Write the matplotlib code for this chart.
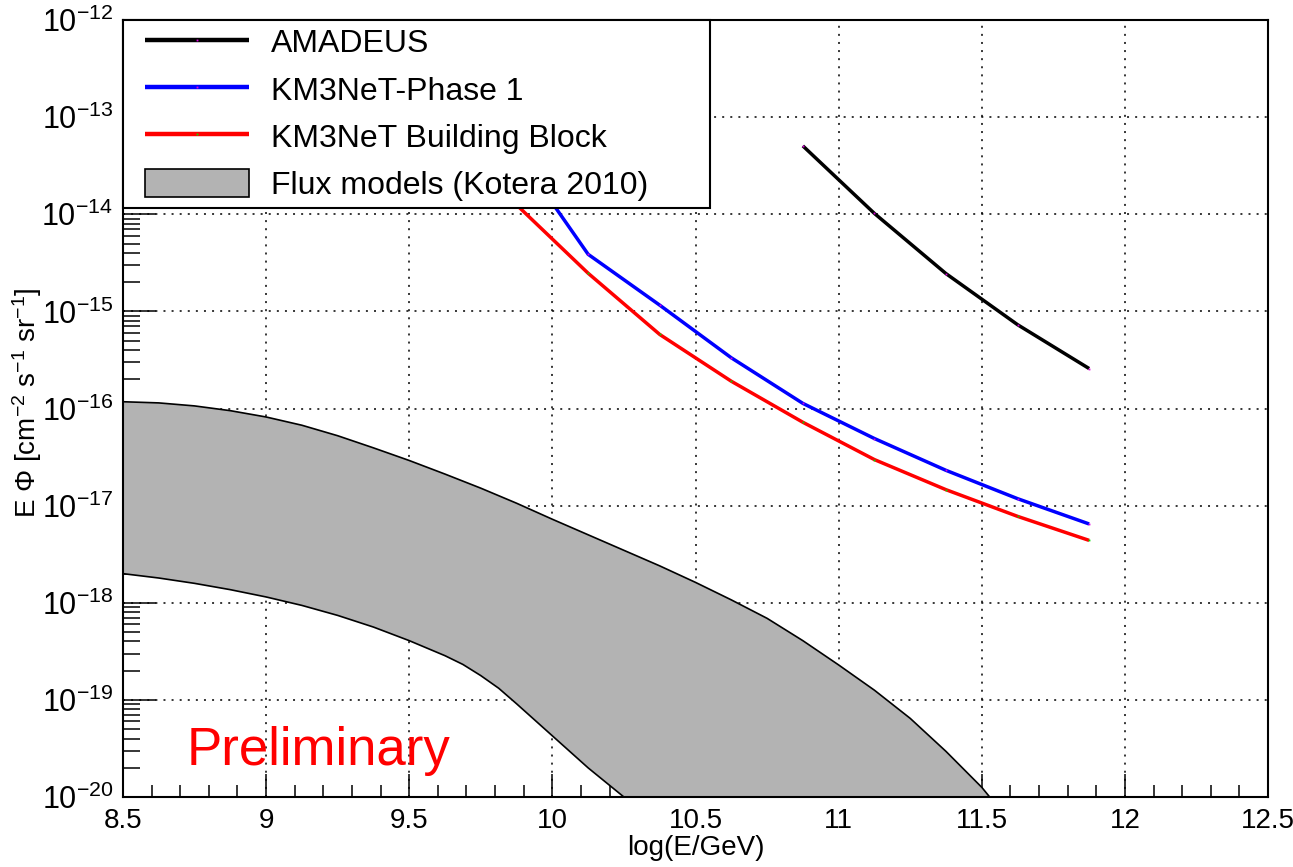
import numpy as np
import matplotlib
matplotlib.use('Agg')
import matplotlib.pyplot as plt
from matplotlib.ticker import FixedLocator, LogFormatterMathtext, MultipleLocator, NullFormatter
from matplotlib.patches import Patch
from matplotlib.legend_handler import HandlerLine2D, HandlerPatch

plt.rcParams['font.family'] = ['Liberation Sans', 'DejaVu Sans']
plt.rcParams['mathtext.fontset'] = 'custom'
plt.rcParams['mathtext.rm'] = 'Liberation Sans'
plt.rcParams['mathtext.it'] = 'Liberation Sans:italic'
plt.rcParams['mathtext.bf'] = 'Liberation Sans:bold'

# sensitivity curves, log10(E/GeV) bin centres
x_amadeus = [10.875, 11.125, 11.375, 11.625, 11.875]
y_amadeus = [5.06e-14, 1.02e-14, 2.45e-15, 7.3e-16, 2.58e-16]

x_phase1 = [9.625, 9.875, 10.125, 10.375, 10.625, 10.875, 11.125, 11.375, 11.625, 11.875]
y_phase1 = [1.5e-13, 4.4e-14, 3.87e-15, 1.16e-15, 3.33e-16, 1.13e-16, 4.91e-17, 2.31e-17, 1.18e-17, 6.48e-18]

x_bb = [9.625, 9.875, 10.125, 10.375, 10.625, 10.875, 11.125, 11.375, 11.625, 11.875]
y_bb = [6.0e-14, 1.25e-14, 2.47e-15, 5.79e-16, 1.91e-16, 7.22e-17, 2.98e-17, 1.46e-17, 7.76e-18, 4.39e-18]

# Kotera 2010 model band (log10 of flux)
x_band_hi = [8.5, 8.625, 8.75, 8.875, 9.0, 9.125, 9.25, 9.375, 9.5, 9.625, 9.75, 9.875,
             10.0, 10.125, 10.25, 10.375, 10.5, 10.625, 10.75, 10.875, 11.0, 11.125,
             11.25, 11.375, 11.5, 11.55]
logy_band_hi = [-15.93, -15.942, -15.973, -16.022, -16.087, -16.172, -16.28, -16.405, -16.535,
                -16.675, -16.82, -16.975, -17.14, -17.30, -17.46, -17.62, -17.79, -17.97,
                -18.16, -18.39, -18.64, -18.90, -19.19, -19.53, -19.90, -20.08]
x_band_lo = [8.5, 8.625, 8.75, 8.875, 9.0, 9.125, 9.25, 9.375, 9.5, 9.625, 9.6875, 9.75,
             9.8125, 9.875, 10.0, 10.125, 10.25, 10.3]
logy_band_lo = [-17.70, -17.745, -17.80, -17.865, -17.94, -18.027, -18.13, -18.25, -18.39,
                -18.545, -18.635, -18.75, -18.88, -19.04, -19.37, -19.70, -20.0, -20.13]

labels = ['AMADEUS', 'KM3NeT-Phase 1', 'KM3NeT Building Block', 'Flux models (Kotera 2010)']

fig = plt.figure(figsize=(12.93, 8.67), dpi=100)
ax = fig.add_axes([0.0951, 0.0807, 0.8856, 0.8962])
ax.set_yscale('log')
ax.set_xlim(8.5, 12.5)
ax.set_ylim(1e-20, 1e-12)

# band: upper curve forward, lower curve back
poly_x = list(x_band_hi) + list(x_band_lo[::-1])
poly_y = list(10.0 ** np.array(logy_band_hi)) + list(10.0 ** np.array(logy_band_lo[::-1]))
ax.fill(poly_x, poly_y, facecolor='#b3b3b3', edgecolor='none', zorder=1)
ax.plot(x_band_hi, 10.0 ** np.array(logy_band_hi), color='black', lw=1.2, zorder=1.5)
ax.plot(x_band_lo, 10.0 ** np.array(logy_band_lo), color='black', lw=1.2, zorder=1.5)

l1, = ax.plot(x_amadeus, y_amadeus, color='black', lw=2.5, solid_capstyle='butt',
              marker='s', ms=1.3, mfc='#e000e0', mec='none', zorder=3)
l2, = ax.plot(x_phase1, y_phase1, color='#0000ff', lw=2.5, solid_capstyle='butt',
              marker='s', ms=1.3, mfc='#e000e0', mec='none', zorder=3)
l3, = ax.plot(x_bb, y_bb, color='#ff0000', lw=2.5, solid_capstyle='butt',
              marker='s', ms=1.3, mfc='#00e000', mec='none', zorder=3)
band_handle = Patch(facecolor='#b3b3b3', edgecolor='black', lw=1.2)

ax.text(8.722, 2.14e-20, 'Preliminary', color='#ff0000', fontsize=38,
        ha='left', va='baseline')

# axes styling
decades = np.arange(-20, -11)
ax.set_axisbelow(True)
ax.grid(True, which='major', color='black', linestyle=(0, (1.3, 4)), lw=1.1)
ax.xaxis.set_major_locator(MultipleLocator(0.5))
ax.xaxis.set_minor_locator(MultipleLocator(0.1))
ax.xaxis.set_major_formatter(plt.FuncFormatter(lambda v, p: f'{v:g}'))
ax.yaxis.set_major_locator(FixedLocator(10.0 ** decades))
ax.yaxis.set_minor_locator(FixedLocator([m * 10.0 ** d for d in decades[:-1] for m in range(2, 10)]))
ax.yaxis.set_major_formatter(LogFormatterMathtext())
ax.yaxis.set_minor_formatter(NullFormatter())
ax.tick_params(axis='both', which='both', direction='in', top=False, right=False,
               width=1.1, colors='black')
ax.tick_params(axis='y', which='major', length=24, pad=7, labelsize=22)
ax.tick_params(axis='y', which='minor', length=12)
ax.tick_params(axis='x', which='major', length=16.5, pad=8, labelsize=20)
ax.tick_params(axis='x', which='minor', length=8.5)
for s in ax.spines.values():
    s.set_linewidth(1.5)

ax.set_xlabel('log(E/GeV)', fontsize=20, va='top')
ax.xaxis.set_label_coords(0.5, -0.049)
ax.set_ylabel(r'E $\Phi$ [cm$^{-2}$ s$^{-1}$ sr$^{-1}$]', fontsize=20)
ax.yaxis.set_label_coords(-0.069, 0.507)

leg_h = (206 - 20) / 777
leg = ax.legend([l1, l2, l3, band_handle], labels,
                loc='upper left', bbox_to_anchor=(0, 1 - leg_h, 0.5127, leg_h),
                mode='expand', borderaxespad=0, fontsize=23,
                handlelength=3.73, handleheight=1.0, handletextpad=0.69,
                borderpad=0.22, labelspacing=0.47, fancybox=False,
                framealpha=1, edgecolor='black',
                handler_map={l1: HandlerLine2D(xpad=0.47), l2: HandlerLine2D(xpad=0.47),
                             l3: HandlerLine2D(xpad=0.47), band_handle: HandlerPatch(xpad=0.47)})
leg.get_frame().set_linewidth(1.5)
for h in leg.legend_handles[:3]:
    h.set_linewidth(3.2)

fig.savefig('out.png', dpi=100)
